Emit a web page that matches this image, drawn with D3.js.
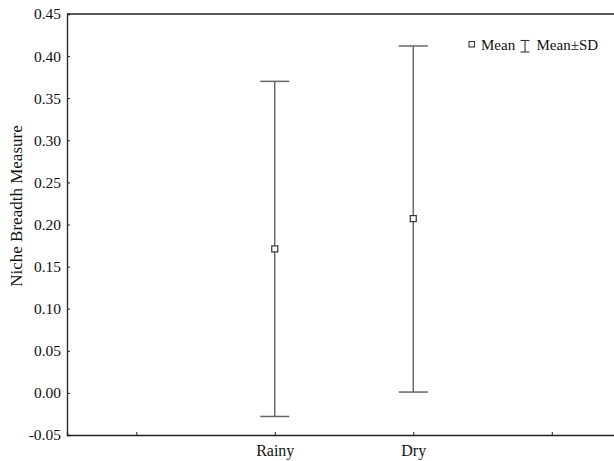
<!DOCTYPE html>
<html>
<head>
<meta charset="utf-8">
<script src="https://cdn.jsdelivr.net/npm/d3@7"></script>
<style>
  body { margin: 0; background: #fff; }
  svg text { font-family: "Liberation Serif", "DejaVu Serif", serif !important; fill: #111; }
</style>
</head>
<body>
<svg id="chart" width="614" height="461"></svg>
<script>
// categories (blank slots at the ends as in the original axis)
var slots = ["a", "Rainy", "Dry", "b"];
var seasons = ["Rainy", "Dry"];
var means = [0.171, 0.207];
var upper = [0.370, 0.412];   // mean + SD
var lower = [-0.028, 0.001];  // mean - SD
var yTicks = [-0.05, 0, 0.05, 0.10, 0.15, 0.20, 0.25, 0.30, 0.35, 0.40, 0.45];

var svg = d3.select("#chart"),
    pLeft = 67, pRight = 621, pTop = 14, pBottom = 435;

var x = d3.scalePoint().domain(slots).range([pLeft, pRight]).padding(0.5);
var y = d3.scaleLinear().domain([-0.05, 0.45]).range([pBottom, pTop]);

// frame
svg.append("line").attr("x1", pLeft).attr("x2", pRight).attr("y1", pTop).attr("y2", pTop)
  .attr("stroke", "#222").attr("stroke-width", 1.3);

var yAxis = d3.axisLeft(y).tickValues(yTicks).tickSize(-3).tickPadding(6)
  .tickFormat(function(d) { return d3.format(".2f")(d).replace("−", "-"); });
var gy = svg.append("g").attr("transform", "translate(" + pLeft + ",0)").call(yAxis);
gy.select(".domain").attr("stroke", "#222").attr("stroke-width", 1.3);
gy.selectAll(".tick line").attr("stroke", "#222");
gy.selectAll(".tick text").attr("font-size", 15.5);

var xAxis = d3.axisBottom(x).tickSize(-3).tickPadding(10)
  .tickFormat(function(d) { return seasons.indexOf(d) >= 0 ? d : ""; });
var gx = svg.append("g").attr("transform", "translate(0," + pBottom + ")").call(xAxis);
gx.select(".domain").attr("stroke", "#222").attr("stroke-width", 1.3);
gx.selectAll(".tick line").attr("stroke", "#222");
gx.selectAll(".tick text").attr("font-size", 16);

// y label
svg.append("text")
  .attr("transform", "translate(22,206) rotate(-90)")
  .attr("text-anchor", "middle")
  .attr("font-size", 17)
  .text("Niche Breadth Measure");

// error bars
var g = svg.append("g");
seasons.forEach(function(s, i) {
  var cx = x(s);
  g.append("line").attr("x1", cx).attr("x2", cx).attr("y1", y(upper[i])).attr("y2", y(lower[i]))
    .attr("stroke", "#555").attr("stroke-width", 1.3);
  [upper[i], lower[i]].forEach(function(v) {
    g.append("line").attr("x1", cx - 14.5).attr("x2", cx + 14.5).attr("y1", y(v)).attr("y2", y(v))
      .attr("stroke", "#666").attr("stroke-width", 1.5);
  });
  g.append("rect").attr("x", cx - 3).attr("y", y(means[i]) - 3).attr("width", 6).attr("height", 6)
    .attr("fill", "#fff").attr("stroke", "#333").attr("stroke-width", 1.2);
});

// legend
var lg = svg.append("g");
lg.append("rect").attr("x", 469).attr("y", 41.5).attr("width", 5.5).attr("height", 5.5)
  .attr("fill", "#fff").attr("stroke", "#333").attr("stroke-width", 1.1);
lg.append("text").attr("x", 481).attr("y", 49.5).attr("font-size", 15).text("Mean");
lg.append("line").attr("x1", 525).attr("x2", 525).attr("y1", 40.5).attr("y2", 52)
  .attr("stroke", "#333").attr("stroke-width", 1.1);
lg.append("line").attr("x1", 520.5).attr("x2", 529.5).attr("y1", 40.5).attr("y2", 40.5)
  .attr("stroke", "#333").attr("stroke-width", 1.1);
lg.append("line").attr("x1", 520.5).attr("x2", 529.5).attr("y1", 52).attr("y2", 52)
  .attr("stroke", "#333").attr("stroke-width", 1.1);
lg.append("text").attr("x", 536.5).attr("y", 49.5).attr("font-size", 15).text("Mean±SD");
</script>
</body>
</html>
